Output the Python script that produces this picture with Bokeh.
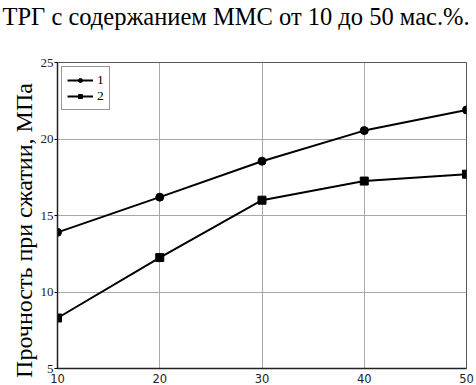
from bokeh.plotting import figure
from bokeh.models import Range1d, FixedTicker, Title, Legend, LegendItem
from bokeh.embed import file_html
from bokeh.resources import INLINE

x_vals = [10, 20, 30, 40, 50]
series1 = [13.9, 16.2, 18.55, 20.55, 21.9]
series2 = [8.3, 12.25, 16.0, 17.25, 17.7]
x_ticks = [10, 20, 30, 40, 50]
y_ticks = [5, 10, 15, 20, 25]
title_text = "ТРГ с содержанием ММС от 10 до 50 мас.%."
y_label = "Прочность при сжатии, МПа"
legend_labels = ["1", "2"]

SERIF = "Liberation Serif"

p = figure(width=476, height=385, output_backend="svg", toolbar_location=None,
           x_range=Range1d(10, 50), y_range=Range1d(5, 25),
           min_border_left=57, min_border_right=10, min_border_top=61, min_border_bottom=17)

p.outline_line_color = "#555555"
p.outline_line_width = 1

p.xaxis.ticker = FixedTicker(ticks=x_ticks)
p.yaxis.ticker = FixedTicker(ticks=y_ticks)
p.xaxis.minor_tick_line_color = None
p.yaxis.minor_tick_line_color = None
p.xaxis.major_tick_in = 0
p.xaxis.major_tick_out = 0
p.yaxis.major_tick_in = 0
p.yaxis.major_tick_out = 3
p.axis.axis_line_color = "#222222"
p.axis.axis_line_width = 1.5
p.xaxis.major_label_text_font = "DejaVu Sans"
p.xaxis.major_label_text_font_size = "11.5px"
p.xaxis.major_label_standoff = 5
p.yaxis.major_label_text_font = SERIF
p.yaxis.major_label_text_font_size = "13px"
p.yaxis.major_label_standoff = 1
p.axis.major_label_text_color = "#222222"

# y axis title, padded with no-break spaces so it sits a little lower, as in the source
p.yaxis.axis_label = y_label + "\u00a0" * 5
p.yaxis.axis_label_text_font = SERIF
p.yaxis.axis_label_text_font_size = "24px"
p.yaxis.axis_label_text_font_style = "normal"
p.yaxis.axis_label_text_color = "black"
p.yaxis.axis_label_standoff = 1

p.grid.grid_line_color = "#a8a8a8"
p.grid.grid_line_width = 1

r1l = p.line(x_vals, series1, line_color="black", line_width=2)
r1m = p.scatter(x_vals, series1, marker="circle", size=8, color="black")
r2l = p.line(x_vals, series2, line_color="black", line_width=2)
r2m = p.scatter(x_vals, series2, marker="square", size=8, color="black")

legend = Legend(items=[LegendItem(label=legend_labels[0], renderers=[r1l, r1m]),
                       LegendItem(label=legend_labels[1], renderers=[r2l, r2m])],
                location="top_left")
legend.label_text_font = SERIF
legend.label_text_font_size = "13.5px"
legend.label_text_color = "black"
legend.border_line_color = "#333333"
legend.border_line_width = 1
legend.glyph_width = 26
legend.glyph_height = 10
legend.label_height = 10
legend.label_width = 6
legend.spacing = 0
legend.padding = 5
legend.margin = 4
legend.label_standoff = 4
p.add_layout(legend)

# a blank second line lifts the heading towards the top edge, as in the source
title = Title(text=title_text + "\n\u00a0", align="left", offset=-55, standoff=2,
              text_font=SERIF, text_font_size="24.5px", text_font_style="normal",
              text_color="black", text_line_height=1.15)
p.add_layout(title, "above")

open("out.html", "w").write(file_html(p, INLINE))
